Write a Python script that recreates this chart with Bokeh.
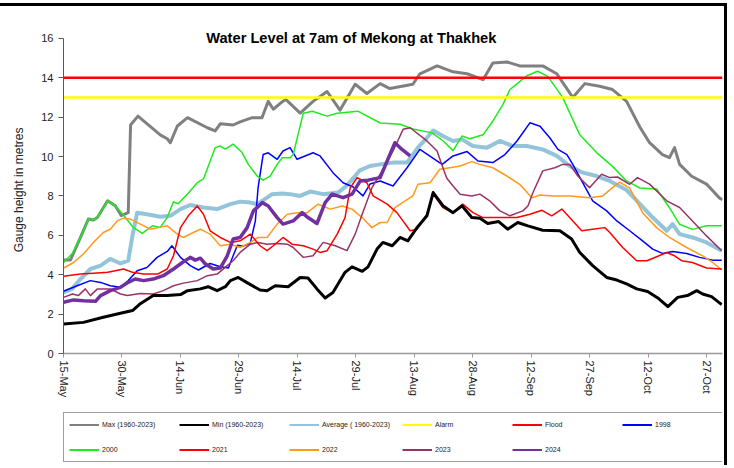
from bokeh.plotting import figure
from bokeh.layouts import column
from bokeh.models import Legend, LegendItem, FixedTicker, Label, Range1d
from bokeh.embed import file_html
from bokeh.resources import INLINE

FONT = "Liberation Sans"

# ---- axis data ----
tick_days = [0, 15, 30, 45, 60, 75, 90, 105, 120, 135, 150, 165]
tick_labels = ["15-May", "30-May", "14-Jun", "29-Jun", "14-Jul", "29-Jul",
               "13-Aug", "28-Aug", "12-Sep", "27-Sep", "12-Oct", "27-Oct"]
y_ticks = [0, 2, 4, 6, 8, 10, 12, 14, 16]
season_days = [0, 169]          # 15-May .. 31-Oct (days after 15-May)
alarm_level = 13.0
flood_level = 14.0

# ---- series: (day after 15-May, gauge height m) ----
max_pts = [(0, 4.75), (1.8, 4.75), (4.35, 5.9), (6.4, 6.83), (7.7, 6.78), (8.7, 6.9), (11.3, 7.75),
           (13.3, 7.5), (14.8, 7.0), (16.6, 7.15), (17.2, 11.6), (19.1, 12.05), (24.8, 11.1),
           (26.6, 10.9), (27.4, 10.7), (29.2, 11.55), (31.8, 11.97), (36.9, 11.46), (38.9, 11.3),
           (40.2, 11.66), (43.5, 11.6), (45.3, 11.76), (48.4, 11.97), (50.9, 11.97), (52.5, 12.8),
           (53.8, 12.4), (55.6, 12.7), (57.0, 12.9), (60.7, 12.2), (64.0, 12.8), (67.6, 13.3),
           (70.9, 12.35), (74.8, 13.67), (77.8, 13.2), (81.2, 13.7), (83.7, 13.45), (89.6, 13.67),
           (91.4, 14.2), (95.8, 14.6), (99.9, 14.3), (103.5, 14.2), (107.6, 13.9), (110.1, 14.75),
           (113.7, 14.8), (117.0, 14.6), (122.9, 14.6), (126.5, 14.2), (130.6, 13.0), (133.7, 13.7),
           (137.5, 13.57), (140.8, 13.4), (144.4, 12.8), (147.8, 11.5), (150.3, 10.7), (153.6, 10.1),
           (155.4, 9.94), (156.7, 10.45), (158.0, 9.6), (161.1, 9.0), (164.9, 8.6), (168.2, 7.9),
           (169, 7.8)]

min_pts = [(0, 1.5), (5.1, 1.58), (10.2, 1.84), (14.6, 2.04), (17.7, 2.18), (19.7, 2.53), (23.0, 2.94),
           (26.6, 2.94), (30.0, 2.99), (31.8, 3.19), (35.1, 3.28), (37.1, 3.39), (39.4, 3.19),
           (41.5, 3.39), (42.8, 3.7), (44.8, 3.86), (47.4, 3.56), (50.4, 3.22), (52.2, 3.19),
           (54.3, 3.44), (57.6, 3.39), (60.7, 3.86), (62.7, 3.83), (65.0, 3.28), (67.1, 2.82),
           (69.1, 3.1), (72.2, 4.12), (74.0, 4.4), (76.6, 4.17), (78.1, 4.4), (80.4, 5.3),
           (81.9, 5.64), (84.3, 5.47), (86.3, 5.89), (88.3, 5.72), (90.7, 6.4), (93.2, 6.99),
           (94.8, 8.17), (97.3, 7.5), (99.9, 7.15), (102.2, 7.5), (104.7, 6.9), (106.8, 6.87),
           (108.8, 6.6), (111.6, 6.7), (113.9, 6.31), (116.5, 6.65), (119.1, 6.48), (122.9, 6.26),
           (127.3, 6.23), (130.3, 5.81), (132.4, 5.13), (135.7, 4.46), (139.3, 3.86), (141.9, 3.73),
           (144.4, 3.53), (147.0, 3.28), (149.8, 3.15), (152.4, 2.82), (155.0, 2.38), (157.5, 2.85),
           (160.0, 2.94), (162.4, 3.19), (163.9, 3.02), (166.2, 2.89), (168.8, 2.48)]

avg_pts = [(0, 3.1), (2.2, 3.28), (4.35, 3.78), (6.9, 4.29), (9.5, 4.46), (12.0, 4.8), (14.6, 4.57),
           (16.6, 4.71), (17.6, 5.89), (18.9, 7.15), (21.4, 7.07), (24.8, 6.94), (27.4, 6.99),
           (30.0, 7.33), (32.5, 7.54), (35.9, 7.41), (39.4, 7.33), (42.8, 7.58), (45.3, 7.71),
           (47.9, 7.66), (49.7, 7.58), (52.2, 7.91), (53.5, 8.09), (56.1, 8.12), (58.1, 8.09),
           (60.7, 8.0), (63.3, 8.22), (66.6, 8.09), (70.4, 8.17), (72.5, 8.5), (74.3, 8.9),
           (76.0, 9.3), (78.6, 9.52), (81.2, 9.6), (84.5, 9.69), (88.1, 9.69), (90.9, 10.45),
           (93.2, 10.95), (94.8, 11.32), (97.3, 11.04), (99.9, 10.79), (102.2, 10.87), (105.0, 10.53),
           (108.6, 10.45), (111.9, 10.79), (115.2, 10.53), (118.8, 10.53), (122.9, 10.36),
           (126.5, 10.03), (129.8, 9.52), (133.2, 9.18), (136.7, 9.01), (140.1, 8.76), (144.4, 8.3),
           (147.8, 7.6), (151.1, 6.9), (154.7, 6.23), (156.2, 6.57), (158.0, 6.06), (161.3, 5.89),
           (164.9, 5.64), (168.8, 5.22)]

y1998_pts = [(0, 3.16), (3.5, 3.44), (6.9, 3.7), (9.5, 3.61), (12.0, 3.44), (14.6, 3.36), (16.6, 3.7),
             (18.9, 4.2), (21.4, 4.37), (24.0, 4.88), (26.6, 5.18), (27.8, 5.47), (30.0, 4.88),
             (32.5, 4.46), (34.6, 4.24), (37.6, 4.57), (40.2, 4.4), (42.3, 4.34), (43.5, 4.96),
             (44.6, 5.5), (46.1, 5.45), (47.9, 5.6), (49.2, 6.73), (49.9, 8.42), (51.2, 10.1),
             (52.5, 10.19), (54.8, 9.86), (56.3, 10.28), (58.1, 10.45), (59.9, 9.86), (64.0, 10.19),
             (65.8, 10.03), (69.1, 9.18), (71.7, 8.67), (74.3, 8.45), (76.8, 8.0), (78.6, 8.6),
             (81.2, 8.76), (84.5, 8.5), (88.1, 9.43), (91.4, 10.36), (97.1, 9.6), (99.9, 10.03),
             (103.5, 10.25), (106.3, 9.77), (110.1, 9.69), (113.2, 10.1), (116.3, 10.79),
             (119.6, 11.71), (122.2, 11.54), (124.7, 10.95), (126.8, 10.36), (129.1, 10.1),
             (130.6, 9.6), (132.9, 8.76), (135.7, 7.75), (139.3, 7.24), (141.9, 6.73), (145.2, 6.23),
             (148.5, 5.72), (151.1, 5.3), (153.6, 5.08), (156.2, 5.18), (159.8, 5.08), (163.1, 4.88),
             (166.5, 4.74), (168.8, 4.74)]

y2000_pts = [(0, 4.62), (2.2, 5.06), (4.35, 5.9), (6.4, 6.83), (7.7, 6.78), (8.7, 6.9), (11.3, 7.75),
             (13.3, 7.5), (15.1, 7.1), (17.9, 6.4), (20.2, 6.1), (22.8, 6.48), (24.8, 6.4),
             (26.6, 6.9), (28.2, 7.7), (29.4, 7.6), (31.8, 8.1), (34.3, 8.67), (35.9, 8.86),
             (38.9, 10.45), (40.2, 10.53), (41.5, 10.38), (43.5, 10.63), (45.8, 10.2), (47.4, 9.6),
             (49.7, 9.0), (51.2, 8.8), (53.0, 9.0), (54.8, 9.6), (56.1, 9.94), (58.1, 9.94),
             (58.9, 10.1), (61.5, 12.2), (63.8, 12.3), (67.6, 12.05), (70.2, 12.2), (75.5, 12.3),
             (81.2, 11.7), (86.3, 11.64), (89.6, 11.4), (94.5, 11.2), (97.3, 10.8), (99.9, 10.3),
             (102.2, 11.04), (104.2, 10.9), (107.6, 11.1), (110.1, 11.8), (112.7, 12.65),
             (114.5, 13.4), (117.0, 13.8), (118.8, 14.1), (121.6, 14.33), (124.2, 14.07),
             (128.0, 13.0), (132.4, 11.1), (136.7, 10.2), (140.8, 9.5), (144.4, 8.76), (147.8, 8.4),
             (152.1, 8.35), (155.4, 7.4), (158.0, 6.56), (161.3, 6.3), (164.9, 6.48), (168.8, 6.48)]

y2021_pts = [(0, 3.92), (4.35, 4.03), (7.7, 4.07), (11.3, 4.12), (13.3, 4.2), (15.4, 4.29), (17.7, 4.12),
             (20.5, 4.03), (24.1, 4.03), (26.6, 4.29), (28.2, 4.96), (30.0, 6.39), (32.0, 6.99),
             (34.3, 7.49), (35.9, 7.07), (37.6, 6.23), (40.2, 5.89), (42.8, 5.64), (45.3, 5.72),
             (47.9, 6.06), (50.4, 5.47), (52.2, 5.22), (53.8, 5.47), (56.3, 5.89), (58.6, 5.55),
             (61.5, 5.47), (64.0, 5.3), (65.8, 5.13), (67.6, 5.22), (70.2, 6.06), (72.2, 6.9),
             (73.5, 8.4), (75.3, 8.93), (77.8, 8.67), (79.4, 8.0), (83.0, 7.58), (85.5, 7.15),
             (88.9, 6.23), (90.7, 6.31), (93.2, 7.07), (94.8, 8.09), (97.3, 7.41), (99.9, 7.15),
             (102.4, 7.58), (105.0, 7.15), (107.6, 6.9), (111.9, 6.9), (116.3, 6.9), (119.6, 7.07),
             (122.7, 7.27), (125.2, 6.99), (127.8, 7.33), (129.8, 6.9), (132.9, 6.23), (135.7, 6.31),
             (138.8, 6.39), (140.1, 6.14), (143.4, 5.38), (147.0, 4.71), (149.6, 4.71), (152.1, 4.91),
             (154.7, 5.13), (156.7, 4.96), (158.5, 4.71), (161.3, 4.62), (164.9, 4.34), (168.8, 4.29)]

y2022_pts = [(0, 4.34), (2.6, 4.62), (5.1, 5.05), (7.7, 5.64), (10.2, 6.14), (12.0, 6.31), (13.8, 6.73),
             (15.4, 6.87), (17.2, 6.82), (19.7, 6.57), (22.3, 6.31), (24.3, 6.39), (26.6, 6.48),
             (29.2, 6.06), (30.7, 5.89), (33.3, 6.14), (35.1, 6.31), (37.6, 6.06), (40.2, 5.47),
             (42.8, 5.55), (45.3, 5.38), (47.9, 5.64), (49.9, 5.89), (52.2, 5.89), (54.8, 6.57),
             (57.4, 7.07), (59.9, 7.15), (62.5, 7.15), (65.3, 7.58), (68.4, 7.33), (71.5, 7.49),
             (74.0, 7.33), (76.6, 6.9), (79.1, 6.39), (81.2, 6.65), (83.0, 6.65), (85.0, 7.41),
             (87.6, 7.75), (89.6, 8.0), (90.9, 8.59), (94.0, 8.67), (96.5, 9.35), (99.1, 9.43),
             (101.7, 9.52), (104.7, 9.74), (106.8, 9.6), (110.1, 9.43), (113.7, 9.01), (117.0, 8.59),
             (118.8, 8.2), (120.1, 7.9), (122.2, 8.05), (125.5, 8.0), (129.8, 8.0), (134.9, 7.91),
             (138.3, 8.0), (140.8, 8.42), (142.6, 8.7), (145.2, 8.4), (148.5, 7.15), (152.1, 6.39),
             (155.4, 5.89), (159.8, 5.38), (163.9, 4.96), (166.5, 4.62), (168.8, 4.24)]

y2023_pts = [(0, 2.85), (2.3, 3.02), (3.8, 2.94), (5.6, 3.28), (6.9, 2.94), (8.7, 3.28), (12.0, 3.28),
             (14.6, 3.02), (16.4, 2.94), (19.7, 3.05), (23.0, 3.02), (25.6, 3.19), (28.2, 3.44),
             (30.5, 3.56), (34.3, 3.7), (36.9, 3.95), (39.4, 4.03), (42.0, 4.46), (43.5, 4.71),
             (45.3, 5.13), (47.9, 5.55), (49.9, 5.64), (52.2, 5.55), (54.8, 5.58), (57.4, 5.55),
             (58.9, 5.38), (61.5, 4.88), (64.0, 4.96), (66.6, 5.64), (69.7, 5.47), (72.7, 5.22),
             (74.8, 6.06), (76.6, 7.07), (79.1, 8.42), (81.2, 9.1), (84.5, 10.28), (87.1, 11.38),
             (88.9, 11.46), (93.2, 10.79), (95.8, 10.28), (97.3, 9.43), (98.3, 8.9), (99.9, 8.5),
             (101.7, 8.09), (104.7, 8.0), (106.8, 8.09), (109.3, 7.75), (111.9, 7.24), (114.5, 6.99),
             (117.8, 7.24), (119.1, 7.49), (120.4, 8.17), (122.9, 9.27), (126.0, 9.43), (128.0, 9.6),
             (129.8, 9.6), (131.9, 9.01), (134.9, 8.42), (138.0, 9.1), (140.1, 8.93), (142.1, 8.96),
             (145.2, 8.59), (147.2, 8.93), (150.3, 8.6), (154.7, 7.75), (158.0, 7.41), (161.3, 6.73),
             (164.9, 5.97), (168.8, 5.22)]

y2024_pts = [(0, 2.6), (2.6, 2.72), (5.1, 2.68), (8.2, 2.65), (9.5, 2.94), (12.0, 3.19), (14.6, 3.36),
             (16.6, 3.61), (18.4, 3.78), (20.5, 3.7), (23.0, 3.78), (25.6, 3.95), (28.2, 4.29),
             (30.5, 4.62), (32.5, 4.88), (33.8, 4.74), (35.1, 4.84), (36.4, 4.54), (38.4, 4.29),
             (40.2, 4.34), (42.0, 4.96), (43.5, 5.81), (45.3, 5.89), (47.1, 6.39), (48.7, 7.24),
             (51.0, 7.66), (52.5, 7.49), (54.8, 6.9), (56.3, 6.57), (58.9, 6.73), (61.2, 7.15),
             (62.7, 6.9), (65.0, 6.6), (67.1, 7.66), (68.9, 8.09), (71.7, 7.91), (74.0, 8.09),
             (76.1, 8.76), (78.1, 8.8), (81.2, 8.93), (83.0, 9.77), (85.0, 10.7), (86.8, 10.36),
             (88.9, 10.03)]

title_text = "Water Level at 7am of Mekong at Thakhek"

# name, points, colour, width in plot (drawing order)
series = {
    "Max (1960-2023)": (max_pts, "#808080", 3.0),
    "Average ( 1960-2023)": (avg_pts, "#93C4D9", 4.0),
    "1998": (y1998_pts, "#0000FF", 1.5),
    "2000": (y2000_pts, "#1EEB1E", 1.5),
    "2022": (y2022_pts, "#FF9A1A", 1.5),
    "2023": (y2023_pts, "#993366", 1.5),
    "2021": (y2021_pts, "#FF0000", 1.5),
    "Min (1960-2023)": (min_pts, "#000000", 3.0),
    "2024": (y2024_pts, "#7030A0", 3.5),
}
legend_order = ["Max (1960-2023)", "Min (1960-2023)", "Average ( 1960-2023)", "Alarm", "Flood",
                "1998", "2000", "2021", "2022", "2023", "2024"]


def xy(pts):
    return [d for d, _ in pts], [v for _, v in pts]


# ---------------- main chart ----------------
p = figure(width=727, height=399, output_backend="svg", toolbar_location=None,
           x_range=Range1d(0, 169), y_range=Range1d(0, 16.6),
           min_border_left=63, min_border_right=5, min_border_top=20, min_border_bottom=52)
p.margin = (3, 0, 0, 0)
p.styles = {"border-top": "3px solid #000000", "border-right": "3px solid #000000"}
p.outline_line_color = None
p.xgrid.visible = False
p.ygrid.visible = False
p.background_fill_color = "white"
p.border_fill_color = "white"

ya = p.yaxis[0]
ya.ticker = FixedTicker(ticks=y_ticks)
ya.bounds = (0, 16)
ya.axis_line_color = "#595959"
ya.major_tick_line_color = "#595959"
ya.major_tick_out = 5
ya.major_tick_in = 0
ya.minor_tick_line_color = None
ya.major_label_text_font = FONT
ya.major_label_text_font_size = "11px"
ya.major_label_text_color = "#222222"
ya.major_label_standoff = 5
ya.axis_label = "Gauge height in metres"
ya.axis_label_text_font = FONT
ya.axis_label_text_font_size = "12px"
ya.axis_label_text_font_style = "normal"
ya.axis_label_text_color = "#222222"
ya.axis_label_standoff = 12

xa = p.xaxis[0]
xa.ticker = FixedTicker(ticks=tick_days)
xa.major_label_overrides = {d: l for d, l in zip(tick_days, tick_labels)}
xa.major_label_orientation = "vertical"
xa.axis_line_color = "#999999"
xa.axis_line_width = 1.5
xa.major_tick_line_color = "#999999"
xa.major_tick_out = 4
xa.major_tick_in = 0
xa.minor_tick_line_color = None
xa.major_label_text_font = FONT
xa.major_label_text_font_size = "11px"
xa.major_label_text_color = "#222222"
xa.major_label_standoff = 3

for name, (pts, color, w) in series.items():
    xs, ys = xy(pts)
    p.line(xs, ys, line_color=color, line_width=w, line_join="round")

p.line(season_days, [alarm_level] * len(season_days), line_color="#FFFF00", line_width=2.5)
p.line(season_days, [flood_level] * len(season_days), line_color="#FF0000", line_width=2.5)

p.add_layout(Label(x=73.8, y=16.0, text=title_text, text_align="center", text_baseline="middle",
                   text_font=FONT, text_font_size="14.67px", text_font_style="bold",
                   text_color="#000000"))

# ---------------- legend strip ----------------
lg = figure(width=727, height=63, output_backend="svg", toolbar_location=None,
            x_range=Range1d(0, 169), y_range=Range1d(-20, -19),
            x_axis_type=None, y_axis_type=None, min_border=0)
lg.styles = {"border-right": "3px solid #000000"}
lg.outline_line_color = None
lg.background_fill_color = "white"
lg.border_fill_color = "white"

legend_renderer = {}
for name, (pts, color, w) in series.items():
    xs, ys = xy(pts)   # drawn outside this strip's range: only the legend sample shows
    legend_renderer[name] = lg.line(xs, ys, line_color=color, line_width=2)
legend_renderer["Alarm"] = lg.line(season_days, [alarm_level] * len(season_days),
                                   line_color="#FFFF00", line_width=2)
legend_renderer["Flood"] = lg.line(season_days, [flood_level] * len(season_days),
                                   line_color="#FF0000", line_width=2)

items = [LegendItem(label=n, renderers=[legend_renderer[n]]) for n in legend_order]
legend = Legend(items=items, ncols=6, orientation="horizontal", location=(0, 3),
                glyph_width=30, glyph_height=13, label_height=13, label_width=65,
                label_standoff=3, spacing=12, padding=5, margin=0,
                label_text_font=FONT, label_text_font_size="7px", label_text_color="#222222",
                border_line_color="#404040", border_line_width=1.5,
                background_fill_color="white", background_fill_alpha=1.0)
lg.add_layout(legend)

layout = column(p, lg, spacing=0)
open("out.html", "w").write(file_html(layout, INLINE))
